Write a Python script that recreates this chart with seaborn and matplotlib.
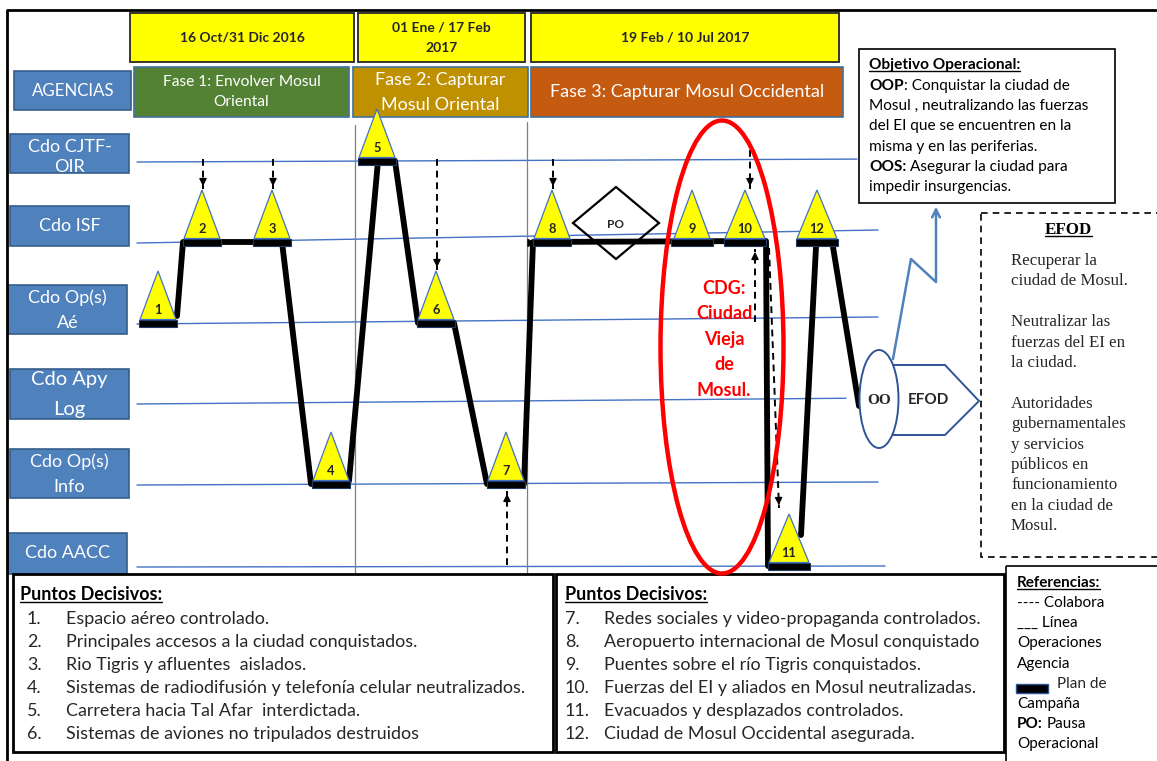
import matplotlib
matplotlib.use("Agg")
import matplotlib.pyplot as plt
import seaborn as sns
import pandas as pd
from matplotlib.patches import Rectangle, Polygon, Ellipse

# ---- data ----
agencies = ["Cdo CJTF-\nOIR", "Cdo ISF", "Cdo Op(s)\nAé", "Cdo Apy\nLog", "Cdo Op(s)\nInfo", "Cdo AACC"]
lane_level = [161, 242, 323, 403, 484, 566]      # lane position of each agency (diagram units)
lane_tilt = [-3, -13, -7, -6, -3, -1]           # drift of the drawn lane across the chart

dates = ["16 Oct/31 Dic 2016", "01 Ene / 17 Feb\n2017", "19 Feb / 10 Jul 2017"]
phases = ["Fase 1: Envolver Mosul\nOriental", "Fase 2: Capturar\nMosul Oriental",
          "Fase 3: Capturar Mosul Occidental"]
phase_colors = ["#548235", "#BF9000", "#C55A11"]
phase_bounds = [355, 527]                        # dates where phases change

dp_num = [1, 2, 3, 4, 5, 6, 7, 8, 9, 10, 11, 12]
dp_x = [158, 202, 272, 331, 377, 436, 506, 552, 692, 745, 789, 817]
dp_lane = [2, 1, 1, 4, 0, 2, 4, 1, 1, 1, 5, 1]
dp_text = ["Espacio aéreo controlado.",
           "Principales accesos a la ciudad conquistados.",
           "Rio Tigris y afluentes  aislados.",
           "Sistemas de radiodifusión y telefonía celular neutralizados.",
           "Carretera hacia Tal Afar  interdictada.",
           "Sistemas de aviones no tripulados destruidos",
           "Redes sociales y video-propaganda controlados.",
           "Aeropuerto internacional de Mosul conquistado",
           "Puentes sobre el río Tigris conquistados.",
           "Fuerzas del EI y aliados en Mosul neutralizadas.",
           "Evacuados y desplazados controlados.",
           "Ciudad de Mosul Occidental asegurada."]

# campaign plan route: (decisive point, offset along x, offset along y)
route = [
    [(1, 19, -7), (2, -19, 0), (3, 10, 0), (4, -20, 0), (4, 18, -3), (5, 1, 0), (5, 18, 0),
     (6, -18, 0), (6, 18, 0), (7, -19, 0), (7, 18, 0), (8, -19, 0), (10, 21, -1), (11, -21, 0)],
    [(11, 12, -31), (12, -1, 5)],
    [(12, 16, 5), ("OO", -20, 3)],
]
oo_x, oo_lane = 879, 3
po_x, po_lane = 616, 1

# collaboration links: (target dp, source lane, direction)
collab = [(2, 0, "down"), (3, 0, "down"), (6, 0, "down"), (8, 0, "down"), (10, 0, "down"),
          (7, 5, "up"), (10, 2, "up")]

oop_lines = [[("OOP", True), (": Conquistar la ciudad de", False)],
             [("Mosul , neutralizando las fuerzas", False)],
             [("del EI que se encuentren en la", False)],
             [("misma y en las periferias.", False)],
             [("OOS:", True), (" Asegurar la ciudad para", False)],
             [("impedir insurgencias.", False)]]
efod_lines = ["Recuperar la", "ciudad de Mosul.", "", "Neutralizar las", "fuerzas del EI en",
              "la ciudad.", "", "Autoridades", "gubernamentales", "y servicios", "públicos en",
              "funcionamiento", "en la ciudad de", "Mosul."]
cdg_lines = ["CDG:", "Ciudad", "Vieja", "de", "Mosul."]

sns.set_theme(style="white")
SANS = ["Lato", "DejaVu Sans"]
SERIF = ["Liberation Serif", "DejaVu Serif"]
plt.rcParams["font.family"] = SANS

fig = plt.figure(figsize=(11.57, 7.61), dpi=100)
ax = fig.add_axes([0, 0, 1, 1])
ax.set_xlim(0, 1157)
ax.set_ylim(761, 0)
ax.axis("off")
renderer = fig.canvas.get_renderer()

BLUE = "#4F81BD"
LANE = "#4472C4"


def dp_pos(n):
    if n == "OO":
        return oo_x, lane_level[oo_lane]
    i = dp_num.index(n)
    return dp_x[i], lane_level[dp_lane[i]]


def box(x0, y0, x1, y1, fc, ec, lw=1.2, **kw):
    ax.add_patch(Rectangle((x0, y0), x1 - x0, y1 - y0, facecolor=fc, edgecolor=ec, lw=lw, **kw))


def stacked(x, yc, lines, step, **kw):
    n = len(lines)
    for k, s in enumerate(lines):
        ax.text(x, yc + (k - (n - 1) / 2) * step, s, va="center", **kw)


def rich(x, y, parts, size, family=SANS, color="black", underline=False):
    for txt, bold in parts:
        if txt.startswith(" "):
            x += size * 100 / 72 * 0.24
            txt = txt.lstrip()
        t = ax.text(x, y, txt, fontsize=size, fontweight="bold" if bold else "normal",
                    family=family, color=color, va="baseline", ha="left")
        w = t.get_window_extent(renderer).width
        if underline:
            ax.plot([x, x + w], [y + 2, y + 2], color=color, lw=1)
        x += w


# outer frame
ax.plot([7, 7, 1157], [761, 10, 10], color="black", lw=2, solid_capstyle="butt")

# date and phase headers
date_boxes = [(130, 354), (358, 525), (531, 839)]
phase_boxes = [(134, 349), (353, 528), (531, 843)]
for (a, b), d in zip(date_boxes, dates):
    box(a, 13, b, 62, "#FFFF00", "#262626", lw=1.3)
    stacked((a + b) / 2, 37.5, d.split("\n"), 21, ha="center", fontsize=10, fontweight="bold")
phase_sizes = [11.2, 13, 13]
phase_step = [21, 25, 25]
for (a, b), p, c, fs, st in zip(phase_boxes, phases, phase_colors, phase_sizes, phase_step):
    box(a, 67, b, 117, c, "#41719C", lw=1.2)
    stacked((a + b) / 2, 92, p.split("\n"), st, ha="center", fontsize=fs, color="white")

box(14, 71, 131, 110, BLUE, "#385D8A", lw=1.2)
ax.text(73, 90.5, "AGENCIAS", ha="center", va="center", fontsize=12.2, color="white")

# agency labels
label_boxes = [(10, 134, 129, 173), (10, 206, 129, 246), (8, 285, 127, 334),
               (10, 369, 129, 419), (10, 449, 129, 498), (8, 533, 127, 574)]
label_yc = [157, 226, 310.5, 395, 474.5, 553]
label_fs = [13, 13, 13, 14.5, 13, 13]
label_step = [20, 0, 25, 30, 25, 0]
for (a, b, c, d), name, yc, fs, st in zip(label_boxes, agencies, label_yc, label_fs, label_step):
    box(a, b, c, d, BLUE, "#385D8A", lw=1.2)
    stacked((a + c) / 2, yc, name.split("\n"), st, ha="center", fontsize=fs, color="white")

# agency lanes
x_start, x_end = 137, 878
lane_end = [857, 878, 878, 846, 878, 885]
for lvl, tilt, xe in zip(lane_level, lane_tilt, lane_end):
    y0 = lvl + 1
    y1 = y0 + tilt * (xe - x_start) / (x_end - x_start)
    ax.plot([x_start, xe], [y0, y1], color=LANE, lw=1, zorder=1)

# phase separators
for xb, top in zip(phase_bounds, [125, 122]):
    ax.plot([xb, xb], [top, 574], color="#7F7F7F", lw=0.9, zorder=1)

# campaign plan line (seaborn)
rows = []
for s, seg in enumerate(route):
    for k, (n, dx, dy) in enumerate(seg):
        px, py = dp_pos(n)
        rows.append({"seg": s, "order": k, "x": px + dx, "y": py + dy})
path = pd.DataFrame(rows)
sns.lineplot(data=path, x="x", y="y", units="seg", estimator=None, sort=False,
             color="black", lw=4.2, ax=ax, legend=False, zorder=3)
ax.set_xlim(0, 1157)
ax.set_ylim(761, 0)
ax.axis("off")
end = path[path.seg == 0].iloc[-3]
ax.annotate("", xy=(end.x + 6, end.y + 1), xytext=(end.x - 4, end.y + 1),
            arrowprops=dict(arrowstyle="-|>", color="black", lw=1, mutation_scale=12), zorder=4)

# decisive points
for n, x, ln in zip(dp_num, dp_x, dp_lane):
    lvl = lane_level[ln]
    hw = 20 if n >= 10 else 18
    ax.add_patch(Rectangle((x - 19 - (2 if n >= 9 else 0), lvl - 3.5), 38 + (4 if n >= 9 else 0), 7,
                           facecolor="black", edgecolor="#203864", lw=0.8, zorder=5))
    ax.add_patch(Polygon([(x - hw, lvl - 3.5), (x + hw, lvl - 3.5), (x, lvl - 52)],
                         closed=True, facecolor="#FFFF00", edgecolor="#4472C4", lw=0.9, zorder=6))
    ax.text(x, lvl - 13, str(n), ha="center", va="center", fontsize=9.3, fontweight="bold", zorder=7)

# operational pause
pcx, pcy = po_x, lane_level[po_lane] - 19
ax.add_patch(Polygon([(pcx - 43, pcy), (pcx, pcy - 36), (pcx + 43, pcy), (pcx, pcy + 36)],
                     closed=True, fill=False, edgecolor="black", lw=1.6, zorder=6))
ax.text(pcx, pcy + 1, "PO", ha="center", va="center", fontsize=8.5, fontweight="bold", zorder=7)


# collaboration arrows
def dashed_arrow(x0, y0, x1, y1):
    ax.plot([x0, x1], [y0, y1], color="black", lw=1.4, ls=(0, (3.5, 2.5)), zorder=6)
    dx, dy = x1 - x0, y1 - y0
    L = (dx ** 2 + dy ** 2) ** 0.5
    ax.annotate("", xy=(x1, y1), xytext=(x1 - dx / L * 9, y1 - dy / L * 9),
                arrowprops=dict(arrowstyle="-|>", color="black", lw=1, mutation_scale=11), zorder=6)


for n, src, d in collab:
    x, lvl = dp_pos(n)
    if d == "down":
        y0 = lane_level[src] - (11 if n == 10 else 2)
        dashed_arrow(x + (5 if n == 10 else 1), y0, x + (5 if n == 10 else 1), lvl - 53)
    else:
        dashed_arrow(x + (10 if n == 10 else 1), lane_level[src] - 1, x + (10 if n == 10 else 1), lvl + 7)
x10, l10 = dp_pos(10)
x11, l11 = dp_pos(11)
dashed_arrow(x10 + 24, l10 + 6, x11 - 10, l11 - 58)

# centre of gravity
ax.add_patch(Ellipse((722, 347), 123, 453, fill=False, edgecolor="#FF0000", lw=3.2, zorder=8))
for k, s in enumerate(cdg_lines):
    ax.text(724, 288 + k * 25.5, s, ha="center", va="center", fontsize=13, fontweight="bold",
            color="#FF0000", zorder=9)

# OO / EFOD end state
ocx, ocy = oo_x, lane_level[oo_lane] - 4
ax.add_patch(Polygon([(885, ocy - 34), (945, ocy - 34), (979, ocy + 2), (945, ocy + 36), (885, ocy + 36)],
                     closed=True, facecolor="white", edgecolor="#2F5597", lw=1.4, zorder=5))
ax.add_patch(Ellipse((ocx, ocy), 39, 98, facecolor="white", edgecolor="#2F5597", lw=1.4, zorder=6))
ax.text(ocx, ocy + 1, "OO", ha="center", va="center", fontsize=11, fontweight="bold",
        family=SERIF, zorder=7)
ax.text(928, ocy + 1, "EFOD", ha="center", va="center", fontsize=11, fontweight="bold", zorder=7)
ax.plot([893, 911, 936, 936], [ocy - 40, 259, 282, 212], color=BLUE, lw=1.8, zorder=4)
ax.annotate("", xy=(936, 204), xytext=(936, 216),
            arrowprops=dict(arrowstyle="->", color=BLUE, lw=1.8, mutation_scale=14), zorder=4)

# operational objective box
box(859, 49, 1115, 203, "white", "black", lw=1.2, zorder=2)
rich(869, 69, [("Objetivo Operacional:", True)], 11.1, underline=True)
for k, parts in enumerate(oop_lines):
    rich(869, 90 + k * 20.2, parts, 11.1)

# EFOD box
box(981, 213, 1200, 557, "none", "black", lw=1.2, ls=(0, (4, 3)))
rich(1045, 234, [("EFOD", True)], 12.2, family=SERIF, underline=True)
for k, s in enumerate(efod_lines):
    ax.text(1011, 265 + k * 20.4, s, fontsize=12.2, family=SERIF, va="baseline")

# decisive point lists
box(13, 574, 553, 752, "none", "black", lw=2)
box(556, 574, 1004, 752, "none", "black", lw=2)
for col, (hx, nx, tx) in enumerate([(20, 27, 66), (565, 565, 604)]):
    rich(hx, 600, [("Puntos Decisivos:", True)], 12.9, underline=True)
    for k in range(6):
        i = col * 6 + k
        ax.text(nx, 624 + k * 23, f"{dp_num[i]}.", fontsize=12.9, va="baseline")
        ax.text(tx, 624 + k * 23, dp_text[i], fontsize=12.9, va="baseline")

# references
box(1006, 566, 1200, 800, "none", "black", lw=1.2)
rich(1017, 587, [("Referencias:", True)], 11, underline=True)
ref_lines = [[("---- Colabora", False)], [("___ Línea", False)], [("Operaciones", False)],
             [("Agencia", False)], [("", False)], [("Campaña", False)],
             [("PO:", True), (" Pausa", False)], [("Operacional", False)]]
for k, parts in enumerate(ref_lines):
    rich(1017, 607 + k * 20.2, parts, 11)
box(1016, 684, 1048, 693, "black", "#2F5597", lw=1)
ax.text(1057, 688, "Plan de", fontsize=11, va="baseline")

fig.savefig("out.png", dpi=100)
